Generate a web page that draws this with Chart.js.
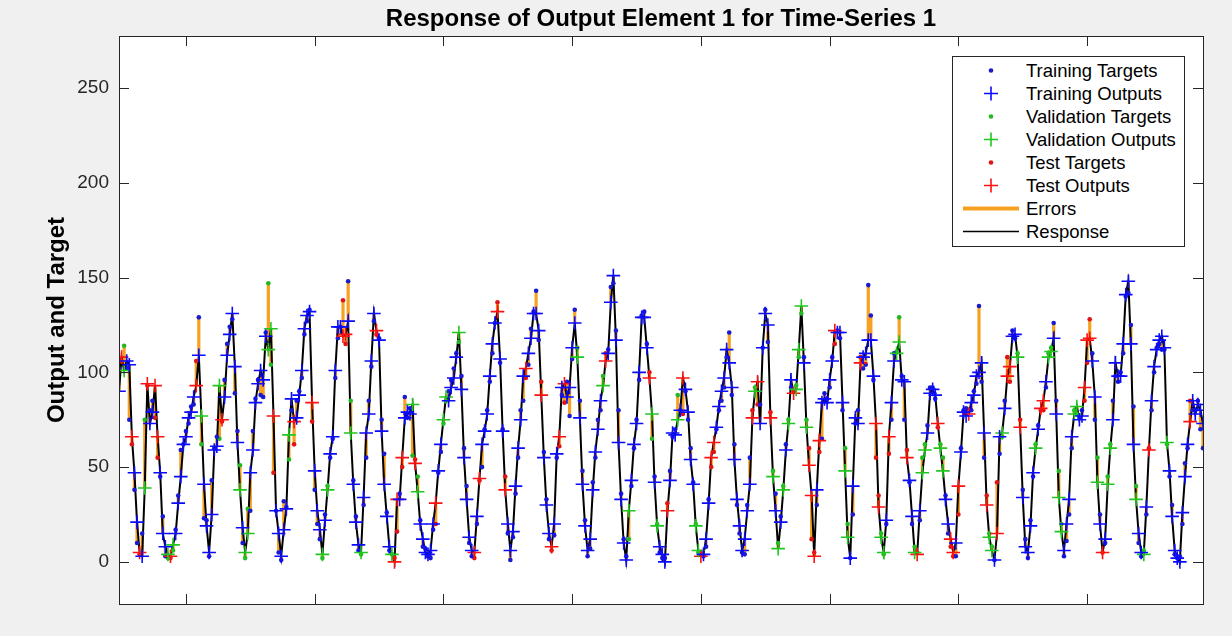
<!DOCTYPE html>
<html>
<head>
<meta charset="utf-8">
<script src="https://cdn.jsdelivr.net/npm/chart.js@4.4.1/dist/chart.umd.min.js"></script>
<style>
html,body{margin:0;padding:0;background:#f0f0f0;}
#wrap{position:relative;width:1232px;height:636px;overflow:hidden;}
#c{position:absolute;left:0;top:0;}
#title{position:absolute;left:119px;width:1084px;top:4px;text-align:center;font-family:"Liberation Sans",Arial,sans-serif;font-weight:bold;font-size:24px;color:#000;line-height:28px;}
#legend{position:absolute;left:952px;top:56px;width:231px;height:189px;background:#fff;border:1px solid #262626;font-family:"Liberation Sans",Arial,sans-serif;font-size:18.5px;color:#000;}
#legend .row{position:absolute;left:0;width:231px;height:23px;}
#legend .row svg{position:absolute;left:0;top:0;}
#legend .row span{position:absolute;left:73px;top:0px;line-height:23px;white-space:nowrap;}
</style>
</head>
<body>
<div id="wrap">
<canvas id="c" width="1232" height="636"></canvas>
<div id="title">Response of Output Element 1 for Time-Series 1</div>
<div id="legend"></div>
</div>
<script>
// ---- data ----
const firstStep = 24;
const xTicks = [50, 100, 150, 200, 250, 300, 350, 400];
const yTicks = [0, 50, 100, 150, 200, 250];
const outputs = [
 90,108,101,106,104,66,47,21,5,3,
 39,94,73,79,93,66,47,15,8,4,
 3,9,15,31,45,62,66,76,79,87,
 93,109,77,41,19,5,25,59,61,93,
 75,87,109,120,131,103,63,38,18,5,
 15,47,59,84,94,101,96,119,112,123,
 77,27,15,3,17,28,67,86,74,76,
 88,101,123,130,132,84,48,27,17,4,
 22,38,57,66,101,124,124,119,120,127,
 68,41,21,9,5,34,68,78,106,131,
 122,117,69,41,24,8,4,0,33,33,
 55,76,79,78,83,52,37,20,12,5,
 4,6,20,31,48,62,75,87,85,92,
 97,108,121,91,55,33,13,6,5,24,
 44,62,69,78,98,115,126,132,107,69,
 38,20,6,16,40,60,75,98,102,110,
 118,131,131,122,88,55,30,15,8,20,
 57,66,92,94,87,92,113,126,108,76,
 41,19,6,12,38,58,70,85,93,106,
 110,137,151,117,63,33,10,1,27,43,
 62,73,100,129,129,113,97,78,42,19,
 8,4,0,27,43,68,67,75,80,97,
 91,79,54,41,19,6,3,4,12,31,
 55,63,71,82,90,97,112,105,92,54,
 33,19,6,12,27,41,76,90,95,73,
 113,131,125,76,45,27,7,21,38,59,
 73,96,89,91,112,135,105,71,51,35,
 3,38,64,84,86,84,96,106,122,121,
 121,84,48,13,2,40,76,73,105,108,
 110,117,117,98,73,29,13,5,22,66,
 84,106,110,116,96,95,55,43,24,5,
 4,27,47,59,68,89,91,88,73,60,
 48,33,20,12,5,10,40,58,79,77,
 78,84,88,98,100,105,68,30,13,6,
 1,15,66,68,81,98,103,119,120,108,
 71,34,8,5,19,47,60,70,81,85,
 95,108,111,118,78,34,16,6,20,33,
 66,78,82,75,77,92,117,118,106,87,
 42,20,5,12,41,60,75,105,98,98,
 115,141,148,115,62,33,15,5,4,29,
 59,85,103,112,117,119,113,63,48,24,
 6,2,0,26,45,62,74,85,78,83,
 80,73
];
const targets = [
 102,106,114,102,75,62,38,10,4,15,
 75,93,80,85,76,55,45,24,3,2,
 2,6,17,35,59,62,69,73,82,83,
 106,129,62,23,22,3,43,60,66,65,
 74,96,115,124,128,89,69,51,10,2,
 28,27,69,86,96,88,87,121,147,104,
 47,27,5,1,32,29,54,80,62,85,
 90,97,120,127,133,74,38,20,12,2,
 25,40,55,65,97,118,124,138,115,148,
 85,43,24,6,4,30,55,85,103,127,
 120,118,75,57,26,6,4,2,16,36,
 50,87,76,81,56,54,45,22,8,7,
 3,2,17,20,47,58,73,85,90,96,
 102,110,116,98,60,40,10,3,2,20,
 43,50,70,80,95,110,126,137,105,70,
 45,15,1,13,36,55,80,85,97,104,
 123,132,143,117,95,58,33,12,6,14,
 55,61,88,84,95,77,107,133,113,85,
 48,22,3,7,42,55,75,80,98,110,
 112,145,147,122,80,36,12,3,12,40,
 60,75,96,130,132,115,100,65,45,20,
 5,2,2,31,48,66,70,88,80,78,
 90,75,60,42,20,5,5,3,8,33,
 50,58,70,80,85,92,108,121,88,62,
 30,15,5,4,30,55,80,92,83,83,
 113,133,116,79,48,36,10,24,40,62,
 75,92,90,93,108,131,108,75,60,12,
 5,30,58,65,89,86,92,108,115,122,
 118,80,60,20,2,25,73,80,108,102,
 104,146,130,96,55,35,15,4,20,57,
 75,110,111,129,98,75,59,42,20,8,
 5,22,55,62,72,92,92,86,71,62,
 55,35,15,8,3,3,25,60,80,81,
 80,80,90,94,135,95,55,35,15,8,
 1,42,57,66,85,108,95,122,118,110,
 75,38,12,2,22,45,62,72,80,80,
 92,110,113,126,85,48,20,3,11,25,
 60,80,78,76,80,85,105,128,110,75,
 55,25,5,10,45,62,85,98,95,100,
 110,140,142,125,82,40,10,3,6,25,
 60,80,100,113,115,112,112,62,45,30,
 4,2,3,20,52,60,85,80,80,85,
 70,60
];
// T = training, V = validation, S = test
const subsets = (
 "TSVTTSTTST"+"VSTTSSTTTV"+"SVTTTTTTTT"+"STVTTTTTTV"+"STTTTTTVTV"+
 "VTTTTTTTVV"+"STTTTTVTST"+"TTTTTSTTTV"+"TVTTTTTSST"+"VTTTVTTTTT"+
 "STTTTTVSST"+"STTTVSVTTT"+"TTTSTTVVTT"+"TTVTTTTTST"+"STTTTTTSTT"+
 "STTTTTTTST"+"TTTTSTTTST"+"TSTSTTTTVT"+"TTTTTTTTVS"+"TTTTTTTTVT"+
 "TTTTTTSVTV"+"TTTSTTTVTS"+"TTTTVVSTTT"+"SSTTTTTTTT"+"TTTTTTSVST"+
 "TTTSVTVTVT"+"VTSVVVTVSS"+"STSTTTTTST"+"TTVVTTTTST"+"TTTTSSVVTS"+
 "TTVVTTSTTV"+"STVVTTTTSV"+"VTTSSTSTTT"+"STTTTTTSVV"+"TSTVTSSTTV"+
 "STTTTTVTSS"+"TVVTTVVTTT"+"TVVTTSSSTT"+"VTSTVVTTTT"+"TTTTTVTTVT"+
 "STTTTTTVTT"+"TTTTTTSTTT"+"TT").split("");
const steps = outputs.map((_, i) => firstStep + i);

// ---- styles ----
const C = {
  T: {dot: '#1a1ad0', cross: '#0a0aff', name: 'Training'},
  V: {dot: '#22b822', cross: '#1fc81f', name: 'Validation'},
  S: {dot: '#e01414', cross: '#ff1010', name: 'Test'}
};
const orange = '#f7a122';

function pts(kind, arr) {
  return steps.map((x, i) => subsets[i] === kind ? {x: x, y: arr[i]} : null).filter(p => p);
}
const errData = [];
steps.forEach((x, i) => {
  errData.push({x: x, y: targets[i]}, {x: x, y: outputs[i]}, {x: x, y: null});
});
const respData = steps.map((x, i) => ({x: x, y: outputs[i]}));

const datasets = [];
['T', 'V', 'S'].forEach(k => {
  datasets.push({label: C[k].name + ' Outputs', data: pts(k, outputs), showLine: false,
    pointStyle: 'cross', pointRadius: 6.8, borderColor: C[k].cross, borderWidth: 1.6, backgroundColor: C[k].cross});
});
['T', 'V', 'S'].forEach(k => {
  datasets.push({label: C[k].name + ' Targets', data: pts(k, targets), showLine: false,
    pointStyle: 'circle', pointRadius: 2.3, borderWidth: 0, backgroundColor: C[k].dot});
});
datasets.push({label: 'Response', data: respData, borderColor: '#000', borderWidth: 2, pointRadius: 0, tension: 0, fill: false});
datasets.push({label: 'Errors', data: errData, borderColor: orange, borderWidth: 3.2, pointRadius: 0, spanGaps: false, fill: false});

const framePlugin = {
  id: 'frame',
  beforeDraw(chart) {
    const a = chart.chartArea, ctx = chart.ctx;
    ctx.save();
    ctx.fillStyle = '#fff';
    ctx.fillRect(a.left, a.top, a.right - a.left, a.bottom - a.top);
    ctx.restore();
  },
  afterDraw(chart) {
    const a = chart.chartArea, ctx = chart.ctx;
    const xs = chart.scales.x, ys = chart.scales.y;
    ctx.save();
    ctx.strokeStyle = '#262626';
    ctx.lineWidth = 1;
    ctx.beginPath();
    xTicks.forEach(v => {
      const px = Math.round(xs.getPixelForValue(v)) + 0.5;
      ctx.moveTo(px, a.bottom); ctx.lineTo(px, a.bottom - 10);
      ctx.moveTo(px, a.top); ctx.lineTo(px, a.top + 10);
    });
    yTicks.forEach(v => {
      const py = Math.round(ys.getPixelForValue(v)) + 0.5;
      ctx.moveTo(a.left, py); ctx.lineTo(a.left + 10, py);
      ctx.moveTo(a.right, py); ctx.lineTo(a.right - 10, py);
    });
    ctx.stroke();
    ctx.strokeRect(Math.round(a.left) + 0.5, Math.round(a.top) + 0.5, Math.round(a.right - a.left), Math.round(a.bottom - a.top));
    ctx.restore();
  }
};

new Chart(document.getElementById('c'), {
  type: 'line',
  data: {datasets: datasets},
  options: {
    responsive: false,
    animation: false,
    events: [],
    layout: {padding: {top: 36, right: 29, left: 0, bottom: 0}},
    plugins: {legend: {display: false}, tooltip: {enabled: false}, title: {display: false}},
    scales: {
      x: {
        type: 'linear', min: firstStep, max: steps[steps.length - 1],
        grid: {display: false, drawTicks: false}, border: {display: false},
        ticks: {display: false},
        afterBuildTicks: s => { s.ticks = xTicks.map(v => ({value: v})); },
        afterFit: s => { s.height = 32; }
      },
      y: {
        type: 'linear', min: -22.2, max: 277.4,
        grid: {display: false, drawTicks: false}, border: {display: false},
        ticks: {padding: 10, color: '#262626', font: {family: '"Liberation Sans", Arial, sans-serif', size: 19}},
        afterBuildTicks: s => { s.ticks = yTicks.map(v => ({value: v})); },
        title: {display: true, text: 'Output and Target', color: '#000',
          font: {family: '"Liberation Sans", Arial, sans-serif', size: 24, weight: 'bold'}, padding: {top: 43, bottom: 0}},
        afterFit: s => { s.width = 119; }
      }
    }
  },
  plugins: [framePlugin]
});

// ---- legend (HTML) ----
const legendItems = [
  {text: 'Training Targets', type: 'dot', color: C.T.dot},
  {text: 'Training Outputs', type: 'cross', color: C.T.cross},
  {text: 'Validation Targets', type: 'dot', color: C.V.dot},
  {text: 'Validation Outputs', type: 'cross', color: C.V.cross},
  {text: 'Test Targets', type: 'dot', color: C.S.dot},
  {text: 'Test Outputs', type: 'cross', color: C.S.cross},
  {text: 'Errors', type: 'line', color: orange, w: 4},
  {text: 'Response', type: 'line', color: '#000', w: 1.5}
];
const leg = document.getElementById('legend');
legendItems.forEach((it, i) => {
  const row = document.createElement('div');
  row.className = 'row';
  row.style.top = (2 + i * 23) + 'px';
  let g = '';
  if (it.type === 'dot') g = `<circle cx="38" cy="11.5" r="2.3" fill="${it.color}"/>`;
  else if (it.type === 'cross') g = `<path d="M31 11.5H45M38 4.5V18.5" stroke="${it.color}" stroke-width="1.6" fill="none"/>`;
  else g = `<path d="M10 11.5H66" stroke="${it.color}" stroke-width="${it.w}" fill="none"/>`;
  row.innerHTML = `<svg width="72" height="23">${g}</svg><span>${it.text}</span>`;
  leg.appendChild(row);
});
</script>
</body>
</html>
